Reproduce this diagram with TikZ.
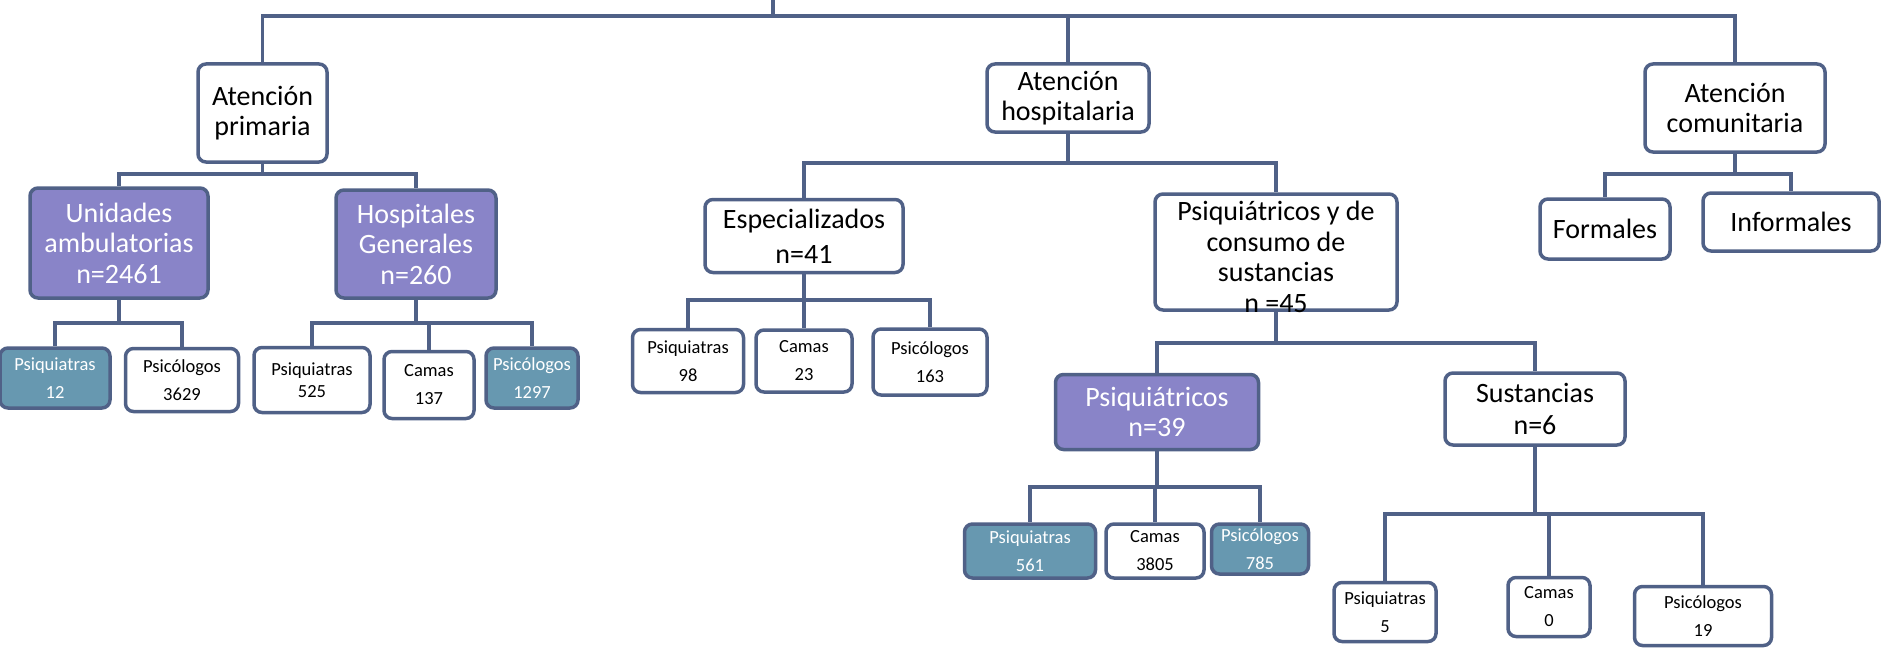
\documentclass[tikz,border=0pt]{standalone}
\usepackage{fontspec}
\setmainfont{Carlito}
\definecolor{ln}{RGB}{80,97,135}
\definecolor{pur}{RGB}{137,132,200}
\definecolor{tea}{RGB}{103,152,176}
\begin{document}
\begin{tikzpicture}[x=1pt,y=-1pt,
  box/.style={draw=ln, line width=3.5pt, rounded corners=8pt, fill=white, align=center, inner sep=0pt, font=\fontsize{28}{30.5}\selectfont},
  sbox/.style={box, font=\fontsize{18.5}{28}\selectfont},
  pfill/.style={fill=pur, text=white},
  tfill/.style={fill=tea, text=white},
  conn/.style={draw=ln, line width=3.5pt}]
\useasboundingbox (0,0) rectangle (1883,661);

% level 1
\node[box, minimum width=129pt, minimum height=98pt] (ap) at (262.5,113) {Atención\\primaria};
\node[box, minimum width=162pt, minimum height=68pt] (ah) at (1068,98) {Atención\\hospitalaria};
\node[box, minimum width=180pt, minimum height=88pt] (ac) at (1735,108) {Atención\\comunitaria};

% primary children
\node[box, pfill, minimum width=178pt, minimum height=110pt] (ua) at (119,243) {Unidades\\ambulatorias\\n=2461};
\node[box, pfill, minimum width=160pt, minimum height=108pt] (hg) at (416,244) {Hospitales\\Generales\\n=260};
\node[sbox, tfill, minimum width=110pt, minimum height=60pt] (ua1) at (55,378) {Psiquiatras\\12};
\node[sbox, minimum width=113pt, minimum height=63pt] (ua2) at (182,380) {Psicólogos\\3629};
\node[sbox, minimum width=116pt, minimum height=65pt, font=\fontsize{18.5}{22}\selectfont] (hg1) at (312,380) {Psiquiatras\\525};
\node[sbox, minimum width=90pt, minimum height=67pt] (hg2) at (429,385) {Camas\\137};
\node[sbox, tfill, minimum width=92pt, minimum height=60pt] (hg3) at (532,378) {Psicólogos\\1297};

% hospital children
\node[box, minimum width=198pt, minimum height=73pt, font=\fontsize{28}{35}\selectfont] (es) at (804,236) {Especializados\\n=41};
\node[box, minimum width=242pt, minimum height=116pt] (psc) at (1276,252) {};
\node[align=center, inner sep=0pt, font=\fontsize{28}{30.5}\selectfont] (psct) at (1276,257) {Psiquiátricos y de\\consumo de\\sustancias\\n =45};
\node[sbox, minimum width=111pt, minimum height=63pt] (es1) at (688,361) {Psiquiatras\\98};
\node[sbox, minimum width=96pt, minimum height=62pt] (es2) at (804,361) {Camas\\23};
\node[sbox, minimum width=114pt, minimum height=66pt] (es3) at (930,362) {Psicólogos\\163};

\node[box, pfill, minimum width=203pt, minimum height=75pt] (pq) at (1157,412) {Psiquiátricos\\n=39};
\node[box, minimum width=180pt, minimum height=72pt, font=\fontsize{28}{32}\selectfont] (su) at (1535,409) {Sustancias\\n=6};
\node[sbox, tfill, minimum width=131pt, minimum height=54pt] (pq1) at (1030,551) {Psiquiatras\\561};
\node[sbox, minimum width=98pt, minimum height=54pt] (pq2) at (1155,551) {Camas\\3805};
\node[sbox, tfill, minimum width=97pt, minimum height=50pt] (pq3) at (1260,549) {Psicólogos\\785};
\node[sbox, minimum width=102pt, minimum height=59pt] (su1) at (1385,612) {Psiquiatras\\5};
\node[sbox, minimum width=82pt, minimum height=59pt] (su2) at (1549,607) {Camas\\0};
\node[sbox, minimum width=137pt, minimum height=59pt] (su3) at (1703,616) {Psicólogos\\19};

% community children
\node[box, minimum width=130pt, minimum height=60pt] (fo) at (1605,229) {Formales};
\node[box, minimum width=176pt, minimum height=58pt] (inf) at (1791,222) {Informales};

% bar coordinates
\coordinate (root) at (773,0);
\coordinate (b0) at (773,16);
\coordinate (b1) at (0,174);
\coordinate (b2) at (0,163);
\coordinate (b3) at (0,174);
\coordinate (b4) at (0,323);
\coordinate (b5) at (0,323);
\coordinate (b6) at (0,300);
\coordinate (b7) at (0,343);
\coordinate (b8) at (0,487);
\coordinate (b9) at (0,514);

% connectors
\draw[conn] (root) -- (b0);
\draw[conn] (ap.north) -- (ap.north |- b0) -- (ac.north |- b0) -- (ac.north);
\draw[conn] (ah.north) -- (ah.north |- b0);

\draw[conn] (ap.south) -- (ap.south |- b1) -| (ua.north);
\draw[conn] (ap.south |- b1) -| (hg.north);

\draw[conn] (ah.south) -- (ah.south |- b2) -| (es.north);
\draw[conn] (ah.south |- b2) -| (psc.north);

\draw[conn] (ac.south) -- (ac.south |- b3) -| (fo.north);
\draw[conn] (ac.south |- b3) -| (inf.north);

\draw[conn] (ua.south) -- (ua.south |- b4) -| (ua1.north);
\draw[conn] (ua.south |- b4) -| (ua2.north);

\draw[conn] (hg.south) -- (hg.south |- b5) -| (hg1.north);
\draw[conn] (hg.south |- b5) -| (hg3.north);
\draw[conn] (hg2.north |- b5) -- (hg2.north);

\draw[conn] (es.south) -- (es.south |- b6) -| (es1.north);
\draw[conn] (es.south |- b6) -| (es3.north);
\draw[conn] (es2.north |- b6) -- (es2.north);

\draw[conn] (psc.south) -- (psc.south |- b7) -| (pq.north);
\draw[conn] (psc.south |- b7) -| (su.north);

\draw[conn] (pq.south) -- (pq.south |- b8) -| (pq1.north);
\draw[conn] (pq.south |- b8) -| (pq3.north);
\draw[conn] (pq2.north |- b8) -- (pq2.north);

\draw[conn] (su.south) -- (su.south |- b9) -| (su1.north);
\draw[conn] (su.south |- b9) -| (su3.north);
\draw[conn] (su2.north |- b9) -- (su2.north);
\end{tikzpicture}
\end{document}
